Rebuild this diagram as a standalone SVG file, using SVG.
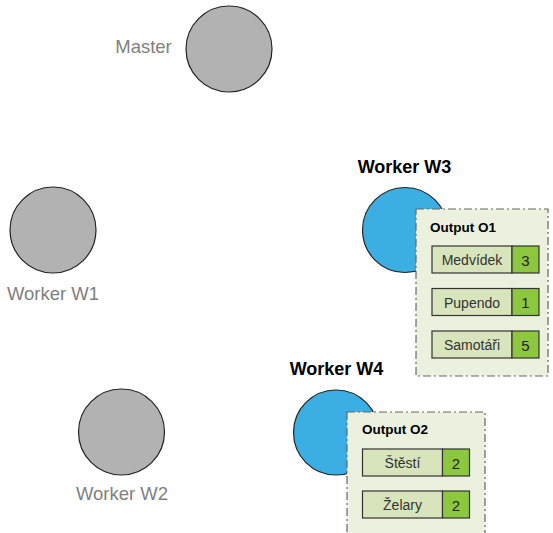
<svg xmlns="http://www.w3.org/2000/svg" width="553" height="533" viewBox="0 0 553 533">
<style>
.g{fill:#b2b2b2;stroke:#222;stroke-width:1.2}
.b{fill:#3baee3;stroke:#222;stroke-width:1.2}
.lg{font-family:"Liberation Sans",Arial,sans-serif;font-size:18.5px;fill:#808080;text-anchor:middle}
.lb{font-family:"Liberation Sans",Arial,sans-serif;font-size:18px;font-weight:bold;fill:#000;text-anchor:middle}
.ob{fill:#ebf1de;stroke:#666;stroke-width:1.2;stroke-dasharray:8 3 2 3}
.ot{font-family:"Liberation Sans",Arial,sans-serif;font-size:13.5px;font-weight:bold;fill:#000}
.k{fill:#d7e4bc;stroke:#333;stroke-width:1.2}
.v{fill:#8dc63f;stroke:#333;stroke-width:1.2}
.kt{font-family:"Liberation Sans",Arial,sans-serif;font-size:14px;fill:#333;text-anchor:middle}
.vt{font-family:"Liberation Sans",Arial,sans-serif;font-size:15px;fill:#222;text-anchor:middle}
</style>
<g id="master">
<circle class="g" cx="229" cy="49" r="43"/>
<text class="lg" x="143.5" y="53">Master</text>
</g>
<g id="w1">
<circle class="g" cx="53" cy="230" r="43"/>
<text class="lg" x="53" y="300">Worker W1</text>
</g>
<g id="w2">
<circle class="g" cx="121.5" cy="432" r="43"/>
<text class="lg" x="122" y="500">Worker W2</text>
</g>
<g id="w3">
<circle class="b" cx="405" cy="230" r="42.5"/>
<text class="lb" x="404.5" y="173">Worker W3</text>
</g>
<g id="w4">
<circle class="b" cx="336" cy="432.5" r="42.5"/>
<text class="lb" x="336.5" y="375">Worker W4</text>
</g>
<g id="o1">
<rect class="ob" x="416" y="209" width="132" height="167"/>
<text class="ot" x="430" y="232">Output O1</text>
<rect class="k" x="432" y="246" width="80" height="27"/>
<rect class="v" x="512" y="246" width="27" height="27"/>
<text class="kt" x="472" y="265">Medvídek</text>
<text class="vt" x="525.5" y="265.5">3</text>
<rect class="k" x="432" y="288.5" width="80" height="27"/>
<rect class="v" x="512" y="288.5" width="27" height="27"/>
<text class="kt" x="472" y="307.5">Pupendo</text>
<text class="vt" x="525.5" y="308">1</text>
<rect class="k" x="432" y="331" width="80" height="27"/>
<rect class="v" x="512" y="331" width="27" height="27"/>
<text class="kt" x="472" y="350">Samotáři</text>
<text class="vt" x="525.5" y="350.5">5</text>
</g>
<g id="o2">
<rect class="ob" x="347" y="412" width="138" height="130"/>
<text class="ot" x="362" y="434">Output O2</text>
<rect class="k" x="362.5" y="449" width="80" height="27"/>
<rect class="v" x="442.5" y="449" width="27" height="27"/>
<text class="kt" x="402.5" y="468">Štěstí</text>
<text class="vt" x="456" y="468.5">2</text>
<rect class="k" x="362.5" y="491" width="80" height="27"/>
<rect class="v" x="442.5" y="491" width="27" height="27"/>
<text class="kt" x="402.5" y="510">Želary</text>
<text class="vt" x="456" y="510.5">2</text>
</g>
<g id="connectors"/>
</svg>
